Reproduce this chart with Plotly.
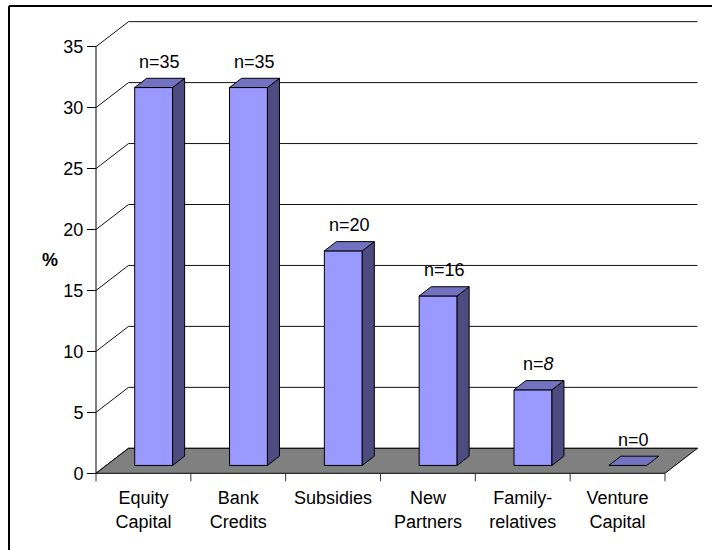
import plotly.graph_objects as go

# ---------------- data ----------------
categories = ["Equity<br>Capital", "Bank<br>Credits", "Subsidies",
              "New<br>Partners", "Family-<br>relatives", "Venture<br>Capital"]
values = [31.0, 31.0, 17.6, 13.9, 6.2, 0.0]
n_labels = ["n=35", "n=35", "n=20", "n=16", "n=<i>8</i>", "n=0"]
y_ticks = [0, 5, 10, 15, 20, 25, 30, 35]
y_label = "%"

# ---------------- geometry / style ----------------
W, H = 712, 550
X0_PX, CAT_PX = 96.0, 94.83      # front axis x, pixels per category
Y0_PX, PCT_PX = 473.3, 12.19     # zero line y, pixels per percent
DEPTH_PX = (32.5, 25.0)          # oblique depth offset of the floor / walls
BAR_HALF = 0.20                  # half bar width in category units
F0, F1 = 0.315, 0.685            # bar front/back depth fractions

FONT = "Liberation Sans, Arial, sans-serif"
FS = 18
FRONT, TOP, SIDE = "#9999FF", "#7272C0", "#4C4C80"
FLOOR = "#808080"

DX = DEPTH_PX[0] / CAT_PX
DY = DEPTH_PX[1] / PCT_PX
xr = [(0 - X0_PX) / CAT_PX, (W - X0_PX) / CAT_PX]
yr = [-(H - Y0_PX) / PCT_PX, Y0_PX / PCT_PX]
ncat = len(categories)
ymax = max(y_ticks)

fig = go.Figure()

def poly(xs, ys, fill, width=1):
    fig.add_trace(go.Scatter(x=xs + [xs[0]], y=ys + [ys[0]], mode="lines",
                             fill="toself", fillcolor=fill,
                             line=dict(color="black", width=width),
                             hoverinfo="skip", showlegend=False))

def lines(xs, ys, color="black", width=1):
    fig.add_trace(go.Scatter(x=xs, y=ys, mode="lines",
                             line=dict(color=color, width=width),
                             hoverinfo="skip", showlegend=False))

# back wall gridlines + left wall diagonals
gx, gy = [], []
for t in y_ticks:
    gx += [0, DX, ncat + DX, None]
    gy += [t, t + DY, t + DY, None]
lines(gx, gy, color="#111111", width=1)

# front vertical axis
lines([0, 0], [0, ymax])

# floor
poly([0, ncat, ncat + DX, DX], [0, 0, DY, DY], FLOOR)

# category tick marks (below the front floor edge)
tx, ty = [], []
for k in range(ncat + 1):
    tx += [k, k, None]
    ty += [0, -8 / PCT_PX, None]
lines(tx, ty, color="#333333")

# bars
for i, v in enumerate(values):
    c = i + 0.5
    xl, xrt = c - BAR_HALF, c + BAR_HALF
    a0x, a0y = F0 * DX, F0 * DY
    a1x, a1y = F1 * DX, F1 * DY
    if v > 0:
        poly([xl + a0x, xrt + a0x, xrt + a0x, xl + a0x],
             [a0y, a0y, v + a0y, v + a0y], FRONT)
        poly([xrt + a0x, xrt + a1x, xrt + a1x, xrt + a0x],
             [a0y, a1y, v + a1y, v + a0y], SIDE)
    poly([xl + a0x, xrt + a0x, xrt + a1x, xl + a1x],
         [v + a0y, v + a0y, v + a1y, v + a1y], TOP)
    fig.add_annotation(x=c + 0.5 * (F0 + F1) * DX, y=v + 0.5 * (F0 + F1) * DY,
                       text=n_labels[i], showarrow=False, yshift=21,
                       font=dict(family=FONT, size=FS, color="black"))

# "%" axis label
fig.add_annotation(x=(49.5 - X0_PX) / CAT_PX, y=(Y0_PX - 260) / PCT_PX,
                   text="<b>" + y_label + "</b>", showarrow=False,
                   font=dict(family=FONT, size=FS, color="black"))

# outer chart border (left and top edges visible)
fig.add_shape(type="line", xref="paper", yref="paper",
              x0=9 / W, x1=9 / W, y0=-0.05, y1=1 - 6 / H,
              line=dict(color="black", width=2))
fig.add_shape(type="line", xref="paper", yref="paper",
              x0=9 / W, x1=1.05, y0=1 - 6 / H, y1=1 - 6 / H,
              line=dict(color="black", width=2))

fig.update_layout(
    width=W, height=H, margin=dict(l=0, r=0, t=0, b=0),
    paper_bgcolor="white", plot_bgcolor="white",
    font=dict(family=FONT, size=FS, color="black"),
    xaxis=dict(range=xr, domain=[0, 1], anchor="free",
               position=(H - Y0_PX) / H,
               tickmode="array", tickvals=[i + 0.5 for i in range(ncat)],
               ticktext=categories, ticks="", showline=False,
               showgrid=False, zeroline=False, ticklabelstandoff=12,
               tickfont=dict(family=FONT, size=FS, color="black")),
    yaxis=dict(range=yr, domain=[0, 1], anchor="free",
               position=X0_PX / W,
               tickmode="array", tickvals=y_ticks, ticks="outside",
               ticklen=9, tickcolor="black", tickwidth=1,
               showline=False, showgrid=False, zeroline=False,
               tickfont=dict(family=FONT, size=FS, color="black")),
)

fig.write_html("out.html")
